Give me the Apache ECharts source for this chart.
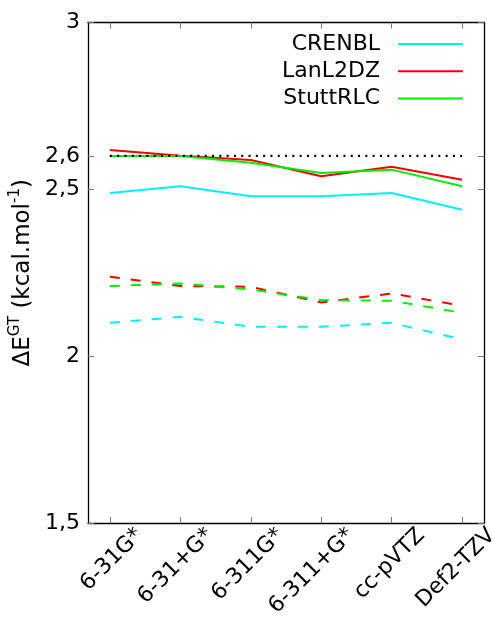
<!DOCTYPE html>
<html>
<head>
<meta charset="utf-8">
<script src="https://cdn.jsdelivr.net/npm/echarts@6/dist/echarts.min.js"></script>
<style>
html,body{margin:0;padding:0;background:#fff;}
#c{width:493px;height:620px;}
</style>
</head>
<body>
<div id="c"></div>
<script>
// ---- data ----
var categories = ['6-31G*', '6-31+G*', '6-311G*', '6-311+G*', 'cc-pVTZ', 'Def2-TZV'];
var crenblSolid   = [2.489, 2.509, 2.479, 2.479, 2.489, 2.439];
var lanl2dzSolid  = [2.618, 2.601, 2.588, 2.539, 2.568, 2.529];
var stuttSolid    = [2.600, 2.600, 2.580, 2.549, 2.559, 2.509];
var crenblDashed  = [2.100, 2.118, 2.088, 2.088, 2.100, 2.050];
var lanl2dzDashed = [2.238, 2.210, 2.208, 2.161, 2.188, 2.151];
var stuttDashed   = [2.210, 2.218, 2.200, 2.168, 2.166, 2.130];
var referenceLevel = 2.6;
var yTickValues = [1.5, 2, 2.5, 2.6, 3];
var yTickLabels = ['1,5', '2', '2,5', '2,6', '3'];
var seriesNames = ['CRENBL', 'LanL2DZ', 'StuttRLC'];

// ---- build ----
var FONT = 'DejaVu Sans';
var colors = {CRENBL: '#00f0ff', LanL2DZ: '#f00000', StuttRLC: '#00ee00'};
var idx = categories.map(function (c, i) { return i; });
var xMin = -0.31, xMax = 5.31;
var W = 493, H = 620;
var gridL = 88, gridR = 9, gridT = 22.5, gridB = 97;
var gridW = W - gridL - gridR, gridH = H - gridT - gridB;
var labelShiftPx = 29.6; // rotated labels sit a little right of their ticks
function pairs(arr) { return arr.map(function (v, i) { return [i, v]; }); }

function lineSeries(name, data, dashed) {
  return {
    type: 'line',
    name: dashed ? name + ' ' : name,
    data: pairs(data),
    xAxisIndex: 0, yAxisIndex: 0,
    symbol: 'none',
    animation: false,
    lineStyle: {color: colors[name], width: 2, type: dashed ? [10, 11] : 'solid'},
    itemStyle: {color: colors[name]},
    z: 2
  };
}

var tickStyle = {show: true, inside: true, length: 6, lineStyle: {color: '#777', width: 1}};
var axisLine = {show: true, onZero: false, lineStyle: {color: '#000', width: 1.3}};

var option = {
  backgroundColor: '#fff',
  animation: false,
  grid: [
    {left: gridL, top: gridT, width: gridW, height: gridH, containLabel: false, outerBoundsMode: 'none'},
    {left: gridL + labelShiftPx, top: gridT, width: gridW, height: gridH, containLabel: false, outerBoundsMode: 'none'}
  ],
  legend: {
    data: seriesNames,
    orient: 'vertical',
    right: 30,
    top: 33,
    padding: 0,
    align: 'right',
    itemWidth: 65,
    itemHeight: 12,
    itemGap: 5.3,
    icon: 'path://M0,0 L65,0 L65,2 L0,2 Z',
    textStyle: {fontFamily: FONT, fontSize: 22, color: '#000', lineHeight: 22, padding: [0, 13, 0, 0]}
  },
  xAxis: [{
    gridIndex: 0, type: 'value', position: 'bottom', min: xMin, max: xMax,
    axisLine: axisLine, splitLine: {show: false},
    axisTick: Object.assign({customValues: idx}, tickStyle),
    axisLabel: {show: false}
  }, {
    gridIndex: 0, type: 'value', position: 'top', min: xMin, max: xMax,
    axisLine: axisLine, splitLine: {show: false},
    axisTick: Object.assign({customValues: idx}, tickStyle),
    axisLabel: {show: false}
  }, {
    // label-only axis in a shifted grid
    gridIndex: 1, type: 'value', position: 'bottom', min: xMin, max: xMax,
    axisLine: {show: false}, axisTick: {show: false}, splitLine: {show: false},
    axisLabel: {
      customValues: idx,
      rotate: 45, margin: 9,
      fontFamily: FONT, fontSize: 22, color: '#000',
      formatter: function (v) { return categories[Math.round(v)]; }
    }
  }],
  yAxis: [{
    gridIndex: 0, type: 'value', position: 'left', min: 1.5, max: 3,
    axisLine: axisLine, splitLine: {show: false},
    axisTick: Object.assign({customValues: yTickValues}, tickStyle),
    axisLabel: {
      customValues: yTickValues, margin: 8,
      fontFamily: FONT, fontSize: 22, color: '#000',
      formatter: function (v) {
        for (var k = 0; k < yTickValues.length; k++) {
          if (Math.abs(yTickValues[k] - v) < 1e-9) return yTickLabels[k];
        }
        return '';
      }
    },
    name: '{n|ΔE}{s|GT}{n| (kcal.mol}{s|-1}{n|)}',
    nameLocation: 'middle',
    nameRotate: 90,
    nameGap: 44,
    nameTextStyle: {
      fontFamily: FONT, color: '#000',
      rich: {
        n: {fontFamily: FONT, fontSize: 23, color: '#000', lineHeight: 27, verticalAlign: 'bottom'},
        s: {fontFamily: FONT, fontSize: 15, color: '#000', lineHeight: 27, verticalAlign: 'top'}
      }
    }
  }, {
    gridIndex: 0, type: 'value', position: 'right', min: 1.5, max: 3,
    axisLine: axisLine, splitLine: {show: false},
    axisTick: Object.assign({customValues: yTickValues}, tickStyle),
    axisLabel: {show: false}
  }, {
    gridIndex: 1, type: 'value', min: 1.5, max: 3, show: false
  }],
  series: [
    lineSeries('CRENBL', crenblSolid, false),
    lineSeries('LanL2DZ', lanl2dzSolid, false),
    lineSeries('StuttRLC', stuttSolid, false),
    lineSeries('CRENBL', crenblDashed, true),
    lineSeries('LanL2DZ', lanl2dzDashed, true),
    lineSeries('StuttRLC', stuttDashed, true),
    {
      type: 'line', name: 'ref', symbol: 'none', animation: false, z: 3,
      xAxisIndex: 0, yAxisIndex: 0,
      data: [[0, referenceLevel], [categories.length - 1, referenceLevel]],
      lineStyle: {color: '#000', width: 2.2, type: [2, 5.3]}
    }
  ]
};

var chart = echarts.init(document.getElementById('c'), null, {renderer: 'canvas'});
chart.setOption(option);
</script>
</body>
</html>
